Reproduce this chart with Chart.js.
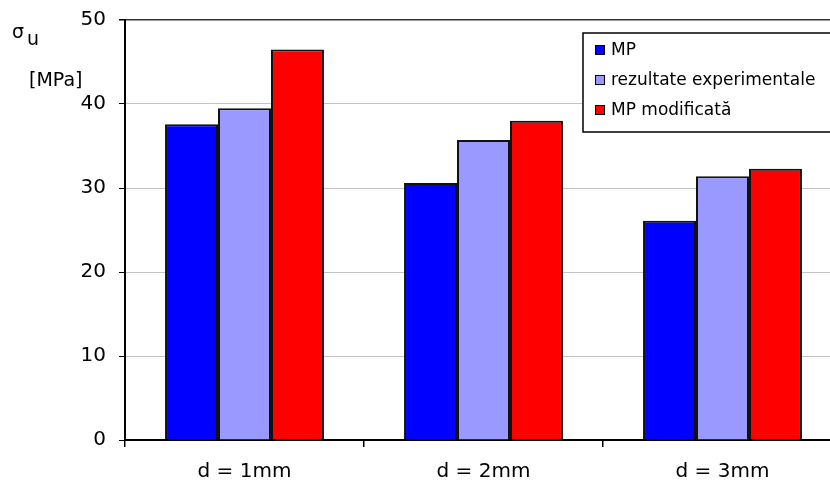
<!DOCTYPE html>
<html>
<head>
<meta charset="utf-8">
<script src="https://cdn.jsdelivr.net/npm/chart.js@4"></script>
<style>
  html, body { margin: 0; padding: 0; background: #fff; }
  #wrap { width: 830px; height: 480px; overflow: hidden; position: relative; }
  canvas { display: block; }
</style>
</head>
<body>
<div id="wrap"><canvas id="c" width="860" height="480"></canvas></div>
<script>
// Ultimate stress σu for three diameters, model vs. experiment
const categories = ['d = 1mm', 'd = 2mm', 'd = 3mm'];
const seriesNames = ['MP', 'rezultate experimentale', 'MP modificată'];
const mpValues = [37.6, 30.6, 26.1];
const experimentValues = [39.5, 35.7, 31.4];
const mpModifiedValues = [46.5, 38.0, 32.3];
const yTickValues = [0, 10, 20, 30, 40, 50];

const seriesColors = ['#0000ff', '#9999ff', '#ff0000'];
const tickFont = { family: 'DejaVu Sans', size: 20 };

// Axis caption in the top-left corner and the boxed legend inside the plot
const annotations = {
  id: 'annotations',
  afterDraw(chart) {
    const ctx = chart.ctx;
    ctx.save();
    ctx.fillStyle = '#000';
    ctx.font = '19px "DejaVu Sans"';
    ctx.textBaseline = 'alphabetic';
    ctx.textAlign = 'left';
    ctx.fillText('σ', 12, 38);
    ctx.fillText('u', 27, 45);
    ctx.fillText('[MPa]', 29, 86);

    // legend box
    const lx = 583, ly = 33, lw = 300, lh = 99;
    ctx.fillStyle = '#fff';
    ctx.fillRect(lx, ly, lw, lh);
    ctx.strokeStyle = '#000';
    ctx.lineWidth = 1.5;
    ctx.strokeRect(lx, ly, lw, lh);
    ctx.font = '17px "DejaVu Sans"';
    ctx.textBaseline = 'middle';
    chart.data.datasets.forEach((ds, i) => {
      const cy = 50 + i * 30;
      ctx.fillStyle = ds.backgroundColor;
      ctx.fillRect(595, cy - 5, 10, 10);
      ctx.lineWidth = 1;
      ctx.strokeStyle = '#000';
      ctx.strokeRect(595.5, cy - 4.5, 9, 9);
      ctx.fillStyle = '#000';
      ctx.fillText(ds.label, 611, cy + 1);
    });
    ctx.restore();
  }
};

new Chart(document.getElementById('c'), {
  type: 'bar',
  data: {
    labels: categories,
    datasets: [
      { label: seriesNames[0], data: mpValues, backgroundColor: seriesColors[0] },
      { label: seriesNames[1], data: experimentValues, backgroundColor: seriesColors[1] },
      { label: seriesNames[2], data: mpModifiedValues, backgroundColor: seriesColors[2] }
    ]
  },
  options: {
    responsive: false,
    animation: false,
    devicePixelRatio: 1,
    layout: { padding: { top: 20, right: 18, left: 0, bottom: 0 } },
    datasets: {
      bar: {
        categoryPercentage: 0.665,
        barPercentage: 1.0,
        borderWidth: 2,
        borderColor: '#111'
      }
    },
    plugins: {
      legend: { display: false },
      tooltip: { enabled: false }
    },
    scales: {
      x: {
        grid: {
          display: true,
          drawOnChartArea: false,
          drawTicks: true,
          tickLength: 7,
          color: '#000',
          lineWidth: 1.5,
          offset: true
        },
        border: { color: '#000', width: 2 },
        ticks: { font: tickFont, color: '#000', padding: 13 },
        afterFit(s) { s.height = 40; s.paddingLeft = 0; s.paddingRight = 0; }
      },
      y: {
        min: 0,
        max: 50,
        afterBuildTicks(s) { s.ticks = yTickValues.map(v => ({ value: v })); },
        grid: {
          color: c => (c.tick && c.tick.value === 50 ? '#333' : '#c4c4c4'),
          lineWidth: c => (c.tick && c.tick.value === 50 ? 1.5 : 1),
          tickColor: '#000',
          tickLength: 6
        },
        border: { color: '#000', width: 2 },
        ticks: { font: tickFont, color: '#000', padding: 13 },
        afterFit(s) { s.width = 125; s.paddingTop = 0; s.paddingBottom = 0; }
      }
    }
  },
  plugins: [annotations]
});
</script>
</body>
</html>
